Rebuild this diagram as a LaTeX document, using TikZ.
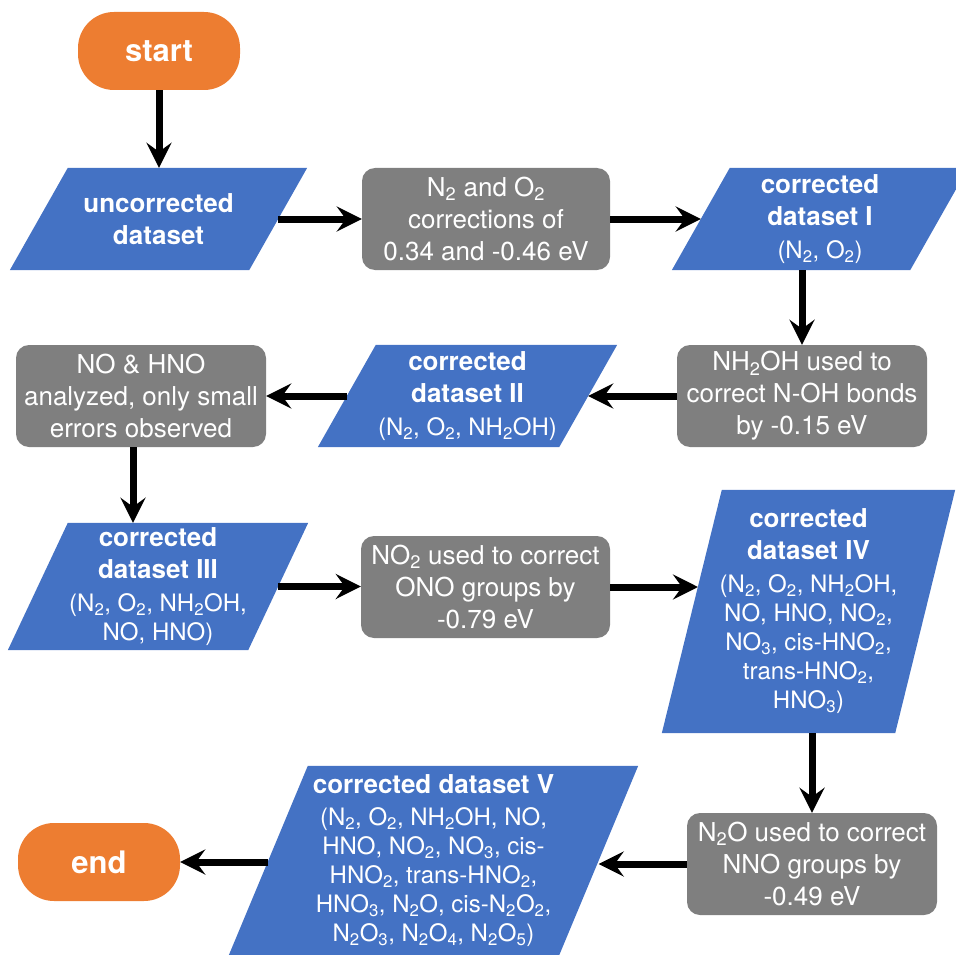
\documentclass[tikz,border=0pt]{standalone}
\usepackage{fontspec}
\setmainfont{TeX Gyre Heros}
\usetikzlibrary{arrows.meta,calc,backgrounds}
\definecolor{orng}{HTML}{ED7D31}
\definecolor{blu}{HTML}{4472C4}
\definecolor{gry}{HTML}{7F7F7F}
\newcommand\parafill[2]{%
  \fill[blu] ($(#1.north west)+(#2,0)$) -- (#1.north east) -- ($(#1.south east)-(#2,0)$) -- (#1.south west) -- cycle;
  \coordinate (#1-l) at ($(#1.west)+(#2/2,0)$);
  \coordinate (#1-r) at ($(#1.east)-(#2/2,0)$);}
\newcommand\bt[1]{{\fontsize{26}{29}\selectfont\bfseries #1}}
\newcommand\sbs[1]{\textsubscript{#1}}
\begin{document}
\begin{tikzpicture}[x=1pt,y=-1pt,
  term/.style={fill=orng, rounded corners=36pt, minimum width=162pt, minimum height=78pt, text=white, font=\fontsize{31}{36}\selectfont\bfseries, inner sep=0pt},
  proc/.style={fill=gry, rounded corners=13pt, minimum width=250pt, minimum height=102pt, text=white, align=center, font=\fontsize{26}{32}\selectfont, inner sep=0pt},
  data/.style={minimum height=102pt, text=white, align=center, font=\fontsize{24}{29}\selectfont, inner sep=0pt},
  arr/.style={line width=7pt, -{Stealth[length=25pt,width=25pt,inset=9pt]}}]
\useasboundingbox (0,0) rectangle (956,955);
\node[term] (start) at (159,51) {start};
\node[data, minimum width=297pt] (unc) at (158.5,219) {\bt{uncorrected}\\[3pt]\bt{dataset}};
\node[proc, minimum width=248pt] (g1) at (486,219) {N\sbs{2} and O\sbs{2}\\corrections of\\0.34 and -0.46 eV};
\node[data, minimum width=296pt] (d1) at (820,219) {\bt{corrected}\\[3pt]\bt{dataset I}\\[4pt](N\sbs{2}, O\sbs{2})};
\node[proc] (g2) at (802,396) {NH\sbs{2}OH used to\\correct N-OH bonds\\by -0.15 eV};
\node[data, minimum width=299pt] (d2) at (467.5,396) {\bt{corrected}\\[3pt]\bt{dataset II}\\[4pt](N\sbs{2}, O\sbs{2}, NH\sbs{2}OH)};
\node[proc] (g3) at (141,396) {NO \& HNO\\analyzed, only small\\errors observed};
\node[data, minimum width=300pt, minimum height=127pt] (d3) at (158,586.5) {\bt{corrected}\\[3pt]\bt{dataset III}\\[4pt](N\sbs{2}, O\sbs{2}, NH\sbs{2}OH,\\NO, HNO)};
\node[proc, minimum width=249pt] (g4) at (485.5,587) {NO\sbs{2} used to correct\\ONO groups by\\-0.79 eV};
\node[data, minimum width=293pt, minimum height=243pt] (d4) at (808.5,611.5) {\bt{corrected}\\[3pt]\bt{dataset IV}\\[4pt](N\sbs{2}, O\sbs{2}, NH\sbs{2}OH,\\NO, HNO, NO\sbs{2},\\NO\sbs{3}, cis-HNO\sbs{2},\\trans-HNO\sbs{2},\\HNO\sbs{3})};
\node[proc] (g5) at (812,864) {N\sbs{2}O used to correct\\NNO groups by\\-0.49 eV};
\node[data, minimum width=409pt, minimum height=189pt] (d5) at (433.5,860.5) {\bt{corrected dataset V}\\[3pt](N\sbs{2}, O\sbs{2}, NH\sbs{2}OH, NO,\\HNO, NO\sbs{2}, NO\sbs{3}, cis-\\HNO\sbs{2}, trans-HNO\sbs{2},\\HNO\sbs{3}, N\sbs{2}O, cis-N\sbs{2}O\sbs{2},\\N\sbs{2}O\sbs{3}, N\sbs{2}O\sbs{4}, N\sbs{2}O\sbs{5})};
\node[term] (end) at (99,862) {end};
\begin{scope}[on background layer]
\parafill{unc}{58}
\parafill{d1}{58}
\parafill{d2}{58}
\parafill{d3}{60}
\parafill{d4}{60}
\parafill{d5}{79}
\end{scope}
\coordinate (d4in) at (698,587);
\draw[arr] (start.south) -- (start.south |- unc.north);
\draw[arr] (unc-r) -- (g1.west);
\draw[arr] (g1.east) -- (d1-l);
\draw[arr] (g2.north |- d1.south) -- (g2.north);
\draw[arr] (g2.west) -- (d2-r);
\draw[arr] (d2-l) -- (g3.east);
\draw[arr] ([xshift=-8pt]g3.south) -- ([xshift=-8pt]g3.south |- d3.north);
\draw[arr] (d3-r) -- (d3-r -| g4.west);
\draw[arr] (g4.east) -- (d4in);
\draw[arr] (g5.north |- d4.south) -- (g5.north);
\draw[arr] (g5.west) -- (g5.west -| d5-r);
\draw[arr] (end.east -| d5-l) -- (end.east);
\end{tikzpicture}
\end{document}
